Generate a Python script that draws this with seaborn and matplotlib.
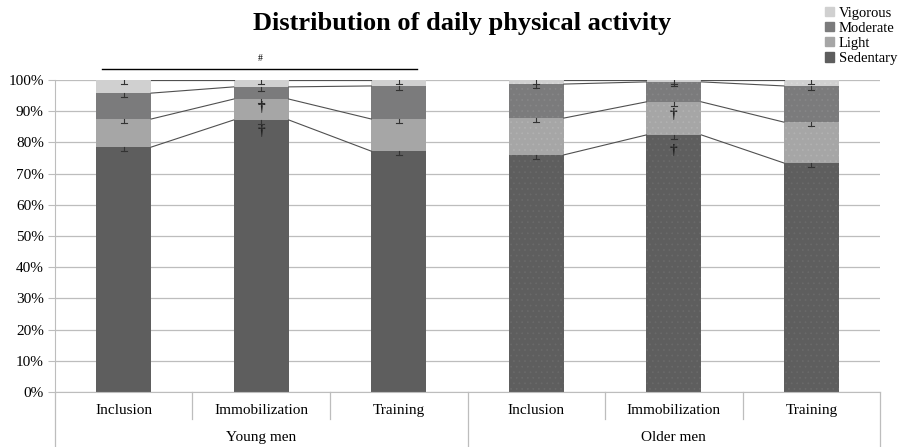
import numpy as np
import pandas as pd
import matplotlib
matplotlib.use("Agg")
import matplotlib.pyplot as plt
import matplotlib.transforms as mtransforms
from matplotlib.patches import Patch
import seaborn as sns

# ------------------ Data (percent of day) ------------------
groups = ["Young men", "Older men"]
conditions = ["Inclusion", "Immobilization", "Training"]
bar_keys = ["Y-Inclusion", "Y-Immobilization", "Y-Training",
            "O-Inclusion", "O-Immobilization", "O-Training"]
sedentary = [78.5, 87.2, 77.2, 76.0, 82.4, 73.4]
light = [9.0, 6.7, 10.3, 11.8, 10.6, 13.1]
moderate = [8.3, 3.9, 10.6, 10.9, 6.4, 11.6]
vigorous = [4.2, 2.2, 1.9, 1.3, 0.6, 1.9]
sem = [1.3, 1.2, 1.2, 1.2, 1.2, 1.2]
# dagger marks: (bar index, y position in %)
daggers = [(1, 83.4), (1, 91.3), (4, 77.4), (4, 88.8)]

levels = ["Sedentary", "Light", "Moderate", "Vigorous"]
colors = {"Sedentary": "#5e5e5e", "Light": "#a6a6a6",
          "Moderate": "#7b7b7c", "Vigorous": "#d0d0d0"}
dots = {"Sedentary": "#6a6a6a", "Light": "#b2b2b2",
        "Moderate": "#878788", "Vigorous": "#dadada"}

df = pd.DataFrame({"bar": bar_keys, "Sedentary": sedentary, "Light": light,
                   "Moderate": moderate, "Vigorous": vigorous})
cum = df[levels].cumsum(axis=1)

plt.rcParams["font.family"] = ["Liberation Serif", "DejaVu Serif"]
plt.rcParams["hatch.linewidth"] = 0.5
fig = plt.figure(figsize=(9, 4.47), dpi=100)
ax = fig.add_axes([0.061, 0.123, 0.917, 0.698])

# stacked bars: draw tallest cumulative first
for lev in reversed(levels):
    n0 = len(ax.patches)
    sns.barplot(x=df["bar"], y=cum[lev], color=colors[lev], width=0.4,
                errorbar=None, saturation=1, linewidth=0, ax=ax, zorder=2)
    # dotted texture on older men bars
    for p in ax.patches[n0:]:
        cx = p.get_x() + p.get_width() / 2
        if cx > 2.5:
            p.set_hatch("...")
            p.set_edgecolor(dots[lev])
            p.set_linewidth(0)

# connector lines between segment tops
xs = np.arange(6)
hw = 0.2
for lev in levels[:-1]:
    tops = cum[lev].values
    for i in [0, 1, 3, 4]:
        ax.plot([xs[i] + hw, xs[i + 1] - hw], [tops[i], tops[i + 1]],
                color="#505050", lw=0.8, zorder=3)
for i in [0, 1, 3, 4]:
    ax.plot([xs[i] + hw, xs[i + 1] - hw], [100, 100], color="#505050", lw=0.8, zorder=3)

# error bars (minus only, cap at the bottom)
for lev in levels:
    tops = cum[lev].values
    for i in range(6):
        lo = tops[i] - sem[i]
        ax.plot([xs[i], xs[i]], [lo, tops[i]], color="#333333", lw=0.8, zorder=4)
        ax.plot([xs[i] - 0.022, xs[i] + 0.022], [lo, lo], color="#333333", lw=0.8, zorder=4)

for i, y in daggers:
    ax.text(xs[i], y, "\u2020", ha="center", va="center", fontsize=11,
            fontweight="bold", color="#222222", zorder=5)

# significance bar
ax.plot([-0.16, 2.13], [103.5, 103.5], color="black", lw=1, clip_on=False)
ax.text(0.99, 105.5, "#", ha="center", va="bottom", fontsize=7)

ax.set_xlim(-0.5, 5.5)
ax.set_ylim(0, 100)
ax.set_yticks(range(0, 101, 10))
ax.set_yticklabels([f"{v}%" for v in range(0, 101, 10)], fontsize=11)
ax.yaxis.grid(True, color="#bdbdbd", lw=0.9)
ax.set_axisbelow(True)
ax.tick_params(axis="y", length=5, color="#bdbdbd", pad=3)
ax.tick_params(axis="x", length=0, labelbottom=False)
ax.set_xlabel("")
ax.set_ylabel("")
for s in ["top", "right"]:
    ax.spines[s].set_visible(False)
ax.spines["left"].set_color("#bdbdbd")
ax.spines["bottom"].set_color("#bdbdbd")

# hierarchical category axis
trans = mtransforms.blended_transform_factory(ax.transData, ax.transAxes)
for i, c in enumerate(conditions * 2):
    ax.text(xs[i], -0.058, c, transform=trans, ha="center", va="center", fontsize=11)
for g, gx in zip(groups, [1, 4]):
    ax.text(gx, -0.145, g, transform=trans, ha="center", va="center", fontsize=11)
for sx in [0.5, 1.5, 3.5, 4.5]:
    ax.plot([sx, sx], [0, -0.085], transform=trans, color="#bdbdbd", lw=0.9, clip_on=False)
for sx in [-0.5, 2.5, 5.5]:
    ax.plot([sx, sx], [0, -0.176], transform=trans, color="#bdbdbd", lw=0.9, clip_on=False)

fig.text(0.513, 0.948, "Distribution of daily physical activity", ha="center",
         va="center", fontsize=19, fontweight="bold")

handles = [Patch(color=colors[l], label=l) for l in reversed(levels)]
fig.legend(handles=handles, loc="upper right", bbox_to_anchor=(1.008, 1.008),
           frameon=False, fontsize=10.5, handlelength=0.6, handleheight=0.6,
           handletextpad=0.3, labelspacing=0.15, borderpad=0.2)

fig.savefig("out.png", dpi=100)
